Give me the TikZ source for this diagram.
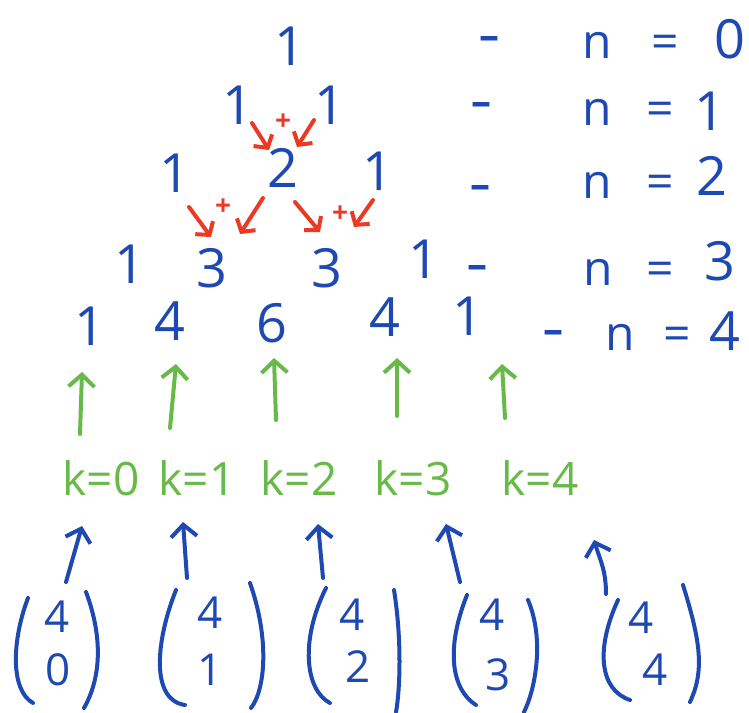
\documentclass[tikz,border=0pt]{standalone}
\usepackage{fontspec}
\setmainfont{Open Sans}
\usetikzlibrary{arrows.meta}
\definecolor{inkblue}{RGB}{30,72,178}
\definecolor{inkred}{RGB}{234,58,38}
\definecolor{inkgreen}{RGB}{104,186,72}
\tikzset{
  num/.style={text=inkblue, font=\fontsize{54}{60}\selectfont, inner sep=0pt, anchor=base},
  lab/.style={text=inkblue, font=\fontsize{48}{54}\selectfont, inner sep=0pt, anchor=base},
  dsh/.style={text=inkblue, font=\fontsize{40}{44}\selectfont\bfseries, inner sep=0pt, anchor=base},
  kl/.style={text=inkgreen, font=\fontsize{46}{52}\selectfont, inner sep=0pt, anchor=base},
  bin/.style={text=inkblue, font=\fontsize{44}{50}\selectfont, inner sep=0pt, anchor=base},
  plus/.style={text=inkred, font=\fontsize{28}{30}\selectfont\bfseries, inner sep=0pt},
  ink/.style={line width=4pt, line cap=round, line join=round},
  redarr/.style={ink, draw=inkred, -{Straight Barb[length=9pt,width=22pt]}},
  grnarr/.style={ink, draw=inkgreen, -{Straight Barb[length=12pt,width=26pt]}},
  bluarr/.style={ink, draw=inkblue, -{Straight Barb[length=12pt,width=26pt]}},
  paren/.style={ink, draw=inkblue}
}
\begin{document}
\begin{tikzpicture}[x=1pt,y=-1pt]
\useasboundingbox (0,0) rectangle (749,712);
% triangle
\node[num] (r0a) at (290,65) {1};
\node[num] (r1a) at (238,124) {1};
\node[num] (r1b) at (330,124) {1};
\node[num] (r2a) at (175,192) {1};
\node[num] (r2b) at (283,187) {2};
\node[num] (r2c) at (378,190) {1};
\node[num] (r3a) at (130,283) {1};
\node[num] (r3b) at (212,287) {3};
\node[num] (r3c) at (327,287) {3};
\node[num] (r3d) at (424,278) {1};
\node[num] (r4a) at (90,345) {1};
\node[num] (r4b) at (170,340) {4};
\node[num] (r4c) at (272,342) {6};
\node[num] (r4d) at (385,336) {4};
\node[num] (r4e) at (468,335) {1};
% row labels
\node[dsh] (d0) at (489,49) {–};
\node[lab] (n0) at (597,58) {n};
\node[lab] (e0) at (665,58) {=};
\node[num] (v0) at (730,58) {0};
\node[dsh] (d1) at (481,115) {–};
\node[lab] (n1) at (597,125) {n};
\node[lab] (e1) at (660,125) {=};
\node[num] (v1) at (710,130) {1};
\node[dsh] (d2) at (480,198) {–};
\node[lab] (n2) at (597,198) {n};
\node[lab] (e2) at (660,198) {=};
\node[num] (v2) at (712,195) {2};
\node[dsh] (d3) at (477,278) {–};
\node[lab] (n3) at (598,285) {n};
\node[lab] (e3) at (660,285) {=};
\node[num] (v3) at (720,280) {3};
\node[dsh] (d4) at (553,343) {–};
\node[lab] (n4) at (620,350) {n};
\node[lab] (e4) at (677,350) {=};
\node[num] (v4) at (725,350) {4};
% red additions
\node[plus] (p1) at (283,122) {+};
\node[plus] (p2) at (223,207) {+};
\node[plus] (p3) at (340,214) {+};
\coordinate (ra1) at (252,123); \coordinate (rb1) at (269,150);
\coordinate (ra2) at (314,120); \coordinate (rb2) at (297,147);
\coordinate (ra3) at (189,207); \coordinate (rb3) at (211,237);
\coordinate (ra4) at (263,198); \coordinate (rb4) at (240,234);
\coordinate (ra5) at (295,202); \coordinate (rb5) at (320,232);
\coordinate (ra6) at (373,200); \coordinate (rb6) at (354,227);
\foreach \i in {1,...,6} \draw[redarr] (ra\i) -- (rb\i);
% k labels
\node[kl] (k0) at (101,495) {k=0};
\node[kl] (k1) at (197,495) {k=1};
\node[kl] (k2) at (299,495) {k=2};
\node[kl] (k3) at (413,495) {k=3};
\node[kl] (k4) at (540,495) {k=4};
\coordinate (ga0) at (80,434); \coordinate (gb0) at (82,372);
\coordinate (ga1) at (170,428); \coordinate (gb1) at (176,364);
\coordinate (ga2) at (276,420); \coordinate (gb2) at (274,358);
\coordinate (ga3) at (397,416); \coordinate (gb3) at (397,358);
\coordinate (ga4) at (505,418); \coordinate (gb4) at (502,364);
\foreach \i in {0,...,4} \draw[grnarr] (ga\i) -- (gb\i);
% blue arrows
\coordinate (ba0) at (66,582); \coordinate (bb0) at (82,526);
\coordinate (ba1) at (187,578); \coordinate (bb1) at (183,522);
\coordinate (ba2) at (323,578); \coordinate (bb2) at (318,524);
\coordinate (ba3) at (460,582); \coordinate (bb3) at (446,524);
\foreach \i in {0,...,3} \draw[bluarr] (ba\i) -- (bb\i);
\coordinate (ba4) at (606,594); \coordinate (bb4) at (594,540);
\draw[bluarr] (ba4) .. controls (606,570) and (600,560) .. (bb4);
% binomials
\node[bin] (t0) at (57,632) {4};
\node[bin] (b0) at (58,685) {0};
\node[bin] (t1) at (210,628) {4};
\node[bin] (b1) at (210,685) {1};
\node[bin] (t2) at (352,630) {4};
\node[bin] (b2) at (358,682) {2};
\node[bin] (t3) at (492,630) {4};
\node[bin] (b3) at (498,690) {3};
\node[bin] (t4) at (641,633) {4};
\node[bin] (b4) at (655,685) {4};
% parentheses
\draw[paren] (28,598) .. controls (12,640) and (10,690) .. (33,703);
\draw[paren] (86,592) .. controls (104,640) and (100,680) .. (84,708);
\draw[paren] (176,590) .. controls (156,640) and (150,700) .. (185,705);
\draw[paren] (250,583) .. controls (270,640) and (265,690) .. (251,708);
\draw[paren] (326,588) .. controls (300,640) and (305,690) .. (330,703);
\draw[paren] (394,590) .. controls (402,640) and (400,690) .. (396,712);
\draw[paren] (467,595) .. controls (445,650) and (452,690) .. (476,705);
\draw[paren] (528,600) .. controls (545,640) and (535,690) .. (524,712);
\draw[paren] (618,600) .. controls (595,650) and (600,690) .. (630,700);
\draw[paren] (683,585) .. controls (700,640) and (705,670) .. (690,702);
\end{tikzpicture}
\end{document}
